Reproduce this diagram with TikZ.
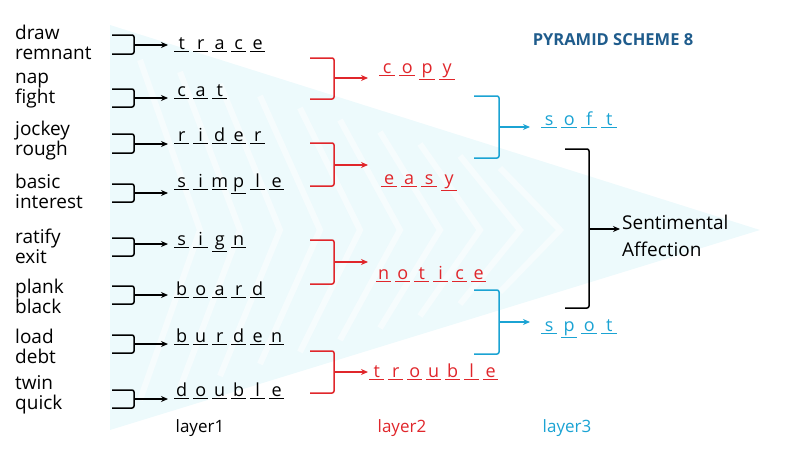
\documentclass[tikz,border=0pt]{standalone}
\usepackage{fontspec}
\setmainfont{Open Sans}
\usetikzlibrary{arrows.meta}
\definecolor{myred}{HTML}{E0262B}
\definecolor{myblue}{HTML}{1BA3D3}
\definecolor{mytitle}{HTML}{1F5C8C}
\definecolor{wm}{HTML}{D8F3F8}
\newcommand\spelled[2]{\edef\spltmp{#2}\foreach \l in \spltmp{\underline{\makebox[#1]{\l}}\hspace{4pt}}}
\tikzset{
 clue/.style={anchor=west,align=left,font=\fontsize{19}{20}\selectfont,inner sep=0pt},
 word/.style={anchor=west,inner sep=0pt,font=\fontsize{18}{18}\selectfont},
 brk/.style={line width=1.5pt,rounded corners=2pt},
 arr/.style={line width=1.3pt,-{Stealth[length=7pt,width=6pt]}},
}
\newcommand\brkt[5]{% color, x1, x2, ytop, ybot
 \draw[brk,#1] (#2,#4) -- (#3,#4) -- (#3,#5) -- (#2,#5);}
\begin{document}
\begin{tikzpicture}[x=1pt,y=-1pt]
\useasboundingbox (0,0) rectangle (800,450);
% faint watermark
\fill[wm,opacity=0.45] (110,25) -- (760,230) -- (110,430) -- cycle;
\foreach \d in {0,40,...,360}{
 \draw[white,line width=6pt,opacity=0.5] (140+\d,60+\d*0.3) -- (200+\d,230) -- (140+\d,400-\d*0.3);}
% title
\node[font=\bfseries\fontsize{16.5}{16.5}\selectfont,text=mytitle] (title) at (613,40) {PYRAMID SCHEME 8};
% clues
\foreach \a/\b/\y [count=\i] in {draw/remnant/42,nap/fight/91,jockey/rough/141,basic/interest/191,ratify/exit/246,plank/black/296,load/debt/346,twin/quick/395}{
 \node[clue] (c\i) at (15,\y) {\a\\\b};
}
% layer 1 words
\foreach \w/\y [count=\i] in {{t,r,a,c,e}/45,{c,a,t}/92,{r,i,d,e,r}/136,{s,i,m,p,l,e}/184,{s,i,g,n}/242,{b,o,a,r,d}/290,{b,u,r,d,e,n}/337,{d,o,u,b,l,e}/391}{
 \node[word] (w\i) at (174,\y) {\spelled{15pt}{\w}};
}
\foreach \t/\b/\y [count=\i] in {35/54/45,89/107/98,134/153/144,184/202/193,238/256/244,286/304/295,335/353/344,390/408/399}{
 \brkt{black}{112}{134}{\t}{\b}
 \coordinate (s\i) at (134,\y);
 \draw[arr] (s\i) -- (168,\y);
}
% layer 2
\node[word,text=myred] (copy) at (379,72) {\spelled{16pt}{c,o,p,y}};
\node[word,text=myred] (easy) at (381,183) {\spelled{16pt}{e,a,s,y}};
\node[word,text=myred] (notice) at (376,274) {\spelled{15pt}{n,o,t,i,c,e}};
\node[word,text=myred] (trouble) at (369,372) {\spelled{15pt}{t,r,o,u,b,l,e}};
\foreach \t/\b/\y/\n [count=\i] in {58/99/78/copy,143/186/165/easy,240/284/262/notice,351/393/372/trouble}{
 \brkt{myred}{310}{334}{\t}{\b}
 \coordinate (r\i) at (334,\y);
 \draw[arr,myred] (r\i) -- (368,\y);
}
% layer 3
\node[word,text=myblue] (soft) at (541,120) {\spelled{16pt}{s,o,f,t}};
\node[word,text=myblue] (spot) at (541,329) {\spelled{16pt}{s,p,o,t}};
\brkt{myblue}{474}{499}{96}{158}
\coordinate (b1) at (499,127);
\draw[arr,myblue] (b1) -- (530,127);
\brkt{myblue}{474}{499}{290}{354}
\coordinate (b2) at (499,322);
\draw[arr,myblue] (b2) -- (530,322);
% final
\brkt{black}{565}{589}{149}{308}
\node[clue,font=\fontsize{19}{27}\selectfont] (ans) at (622,236) {Sentimental\\Affection};
\coordinate (f) at (589,229);
\draw[arr] (f) -- (620,229);
% layer labels
\node[font=\fontsize{17}{17}\selectfont] (l1) at (200,428) {layer1};
\node[font=\fontsize{17}{17}\selectfont,text=myred] (l2) at (402,428) {layer2};
\node[font=\fontsize{17}{17}\selectfont,text=myblue] (l3) at (567,428) {layer3};
\end{tikzpicture}
\end{document}
